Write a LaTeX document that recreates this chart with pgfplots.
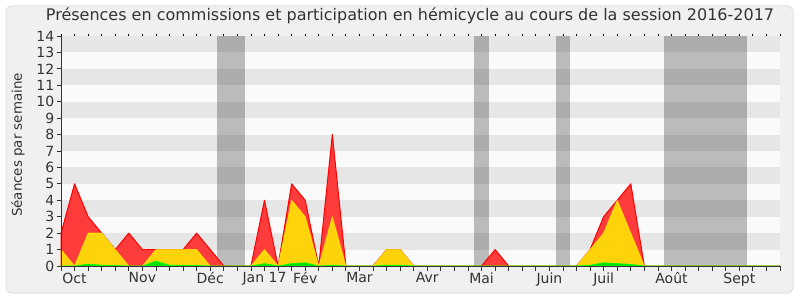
\documentclass[border=0pt]{standalone}
\usepackage{pgfplots}
\pgfplotsset{compat=1.18}
\usepackage{pgfplotstable}
\usepackage{fontspec}
\setmainfont{DejaVu Sans}
\definecolor{bgout}{HTML}{F0F0F0}
\definecolor{frameline}{HTML}{E2E2E2}
\definecolor{stripeA}{HTML}{E6E6E6}
\definecolor{stripeB}{HTML}{FAFAFA}
\definecolor{redfill}{HTML}{FF3C3C}
\definecolor{redline}{HTML}{FF0000}
\definecolor{yelfill}{HTML}{FFD30A}
\definecolor{yelline}{HTML}{FFFF00}
\definecolor{grnfill}{HTML}{00E000}
\definecolor{grnline}{HTML}{00FF00}
\definecolor{txt}{HTML}{333333}

\pgfplotstableread{
i red yel grn
0 2 1 0
1 5 0 0
2 3 2 0.12
3 2 2 0.05
4 1 1 0.03
5 2 0 0
6 1 0 0
7 1 1 0.3
8 1 1 0.05
9 1 1 0.05
10 2 1 0.03
11 1 0 0
12 0 0 0
13 0 0 0
14 0 0 0
15 4 1 0.15
16 0 0 0
17 5 4 0.15
18 4 3 0.2
19 0 0 0
20 8 3 0.05
21 0 0 0
22 0 0 0
23 0 0 0
24 1 1 0.05
25 1 1 0.05
26 0 0 0
27 0 0 0
28 0 0 0
29 0 0 0
30 0 0 0
31 0 0 0
32 1 0 0
33 0 0 0
34 0 0 0
35 0 0 0
36 0 0 0
37 0 0 0
38 0 0 0
39 1 1 0.05
40 3 2 0.2
41 4 4 0.15
42 5 2 0.1
43 0 0 0
44 0 0 0
45 0 0 0
46 0 0 0
47 0 0 0
48 0 0 0
49 0 0 0
50 0 0 0
51 0 0 0
52 0 0 0
53 0 0 0
}\data

\begin{document}
\begin{tikzpicture}
\fill[white] (0,0) rectangle (800pt,300pt);
\filldraw[fill=bgout, draw=frameline, line width=1pt, rounded corners=6pt] (6pt,7pt) rectangle (793pt,294pt);
\node[text=txt, font=\fontsize{16}{19}\selectfont, inner sep=0pt] at (410pt,284pt) {Présences en commissions et participation en hémicycle au cours de la session 2016-2017};
\node[text=txt, font=\fontsize{13.4}{16}\selectfont, rotate=90, inner sep=0pt] at (18pt,155pt) {Séances par semaine};
\begin{axis}[
  at={(61pt,34pt)}, anchor=south west,
  scale only axis, width=719pt, height=230pt,
  xmin=0, xmax=53, ymin=0, ymax=14,
  axis on top,
  axis x line=bottom, axis y line=left,
  axis line style={-, draw=txt, line width=0.8pt},
  tick style={draw=txt, line width=0.8pt},
  tick align=outside,
  major tick length=4.5pt,
  xtick={0,...,53}, xticklabels={},
  extra x ticks={1,6,11,15,18,22,27,31,36,40,45,50},
  extra x tick labels={Oct,Nov,Déc,Jan 17,Fév,Mar,Avr,Mai,Juin,Juil,Août,Sept},
  extra x tick style={tick style={draw=none}},
  ytick={0,...,14},
  /pgf/number format/assume math mode=true,
  ticklabel style={text=txt, font=\fontsize{14}{16}\selectfont},
  yticklabel style={inner sep=1pt, xshift=-1pt},
  xticklabel style={inner sep=0pt, yshift=-2pt},
  clip=false,
]
\fill[stripeB] (axis cs:0,0) rectangle (axis cs:53,14);
\fill[stripeA] (axis cs:0,1) rectangle (axis cs:53,2);
\fill[stripeA] (axis cs:0,3) rectangle (axis cs:53,4);
\fill[stripeA] (axis cs:0,5) rectangle (axis cs:53,6);
\fill[stripeA] (axis cs:0,7) rectangle (axis cs:53,8);
\fill[stripeA] (axis cs:0,9) rectangle (axis cs:53,10);
\fill[stripeA] (axis cs:0,11) rectangle (axis cs:53,12);
\fill[stripeA] (axis cs:0,13) rectangle (axis cs:53,14);
\fill[black, opacity=0.25] (axis cs:11.5,0) rectangle (axis cs:13.56,14);
\fill[black, opacity=0.25] (axis cs:30.44,0) rectangle (axis cs:31.55,14);
\fill[black, opacity=0.25] (axis cs:36.49,0) rectangle (axis cs:37.52,14);
\fill[black, opacity=0.25] (axis cs:44.45,0) rectangle (axis cs:50.54,14);
\addplot[draw=redline, fill=redfill, line width=1pt, line join=round] table[x=i,y=red]{\data} \closedcycle;
\addplot[draw=yelline, draw opacity=0.6, fill=yelfill, line width=0.8pt, line join=round] table[x=i,y=yel]{\data} \closedcycle;
\addplot[draw=grnline, fill=grnfill, line width=0.6pt, line join=round] table[x=i,y=grn]{\data} \closedcycle;
\end{axis}
\begin{axis}[
  at={(61pt,34pt)}, anchor=south west,
  scale only axis, width=719pt, height=230pt,
  xmin=0, xmax=53, ymin=0, ymax=14,
  axis x line=top, axis y line=none,
  axis line style={draw=none},
  tick align=outside,
  major tick length=1.5pt,
  xtick={0,...,53}, xticklabels={},
  x tick style={draw=black, line width=0.8pt},
]
\end{axis}
\end{tikzpicture}
\end{document}
